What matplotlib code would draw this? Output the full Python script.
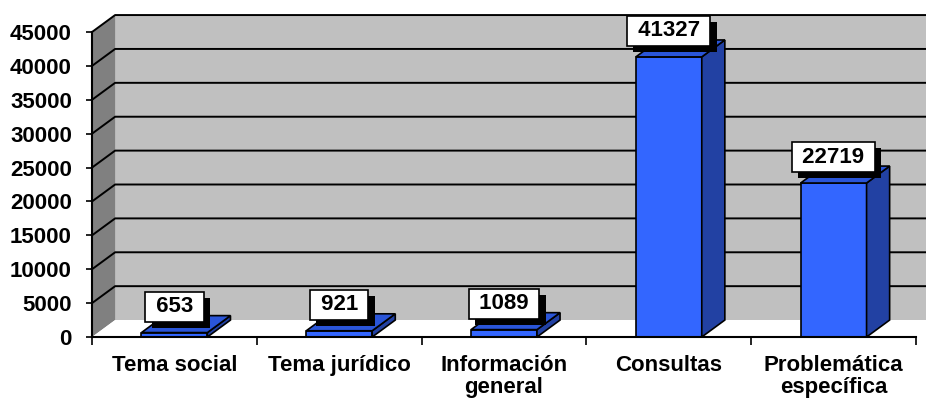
import matplotlib.pyplot as plt
from matplotlib.patches import Polygon
import matplotlib.patheffects as pe

plt.rcParams['font.family'] = ['Liberation Sans', 'DejaVu Sans']
plt.rcParams['font.weight'] = 'bold'

# datos del grafico
categorias = ['Tema social', 'Tema jurídico', 'Información\ngeneral', 'Consultas', 'Problemática\nespecífica']
valores = [653, 921, 1089, 41327, 22719]
ticks_y = [0, 5000, 10000, 15000, 20000, 25000, 30000, 35000, 40000, 45000]

# profundidad 3D (en unidades de datos)
DX = 0.14
DY = 2500
ANCHO = 0.4

fig = plt.figure(figsize=(9.26, 4.01), dpi=100)
ax = fig.add_axes([0.0994, 0.1596, 0.8898, 0.7606])
ax.patch.set_visible(False)

x0, x1 = -0.5, len(categorias) - 0.5
ymax = ticks_y[-1]

def poly(pts, fc, z, ec='black', lw=1.2):
    p = Polygon(pts, closed=True, facecolor=fc, edgecolor=ec, linewidth=lw, clip_on=False, zorder=z)
    ax.add_patch(p)

# paredes y suelo (sin borde)
poly([(x0 + DX, DY), (x1 + DX, DY), (x1 + DX, ymax + DY), (x0 + DX, ymax + DY)], '#c0c0c0', 1, ec='none')
poly([(x0, 0), (x0 + DX, DY), (x0 + DX, ymax + DY), (x0, ymax)], '#808080', 1, ec='none')
poly([(x0, 0), (x1, 0), (x1 + DX, DY), (x0 + DX, DY)], 'white', 1, ec='none')

# lineas de division (la de 0 no se dibuja)
for t in ticks_y[1:]:
    ax.plot([x0, x0 + DX, x1 + DX], [t, t + DY, t + DY], color='black', lw=1.4, clip_on=False, zorder=2)

# barras
for i, v in enumerate(valores):
    a, b = i - ANCHO / 2, i + ANCHO / 2
    poly([(a, 0), (b, 0), (b, v), (a, v)], '#3366ff', 3)
    poly([(b, 0), (b + DX, DY), (b + DX, v + DY), (b, v)], '#2241a3', 3)
    poly([(a, v), (b, v), (b + DX, v + DY), (a + DX, v + DY)], '#2a55d8', 3)

    t = ax.annotate(' ' + str(v) + ' ', xy=(i, v), xytext=(0, 26), textcoords='offset pixels',
                    ha='center', va='center', fontsize=16, fontweight='bold', zorder=6,
                    bbox=dict(boxstyle='square,pad=0.2', fc='white', ec='black', lw=1.2))
    t.get_bbox_patch().set_path_effects([
        pe.SimplePatchShadow(offset=(4.5, -4.5), shadow_rgbFace='black', alpha=1.0),
        pe.Normal()])

ax.set_xlim(x0, x1)
ax.set_ylim(0, ymax)

ax.set_yticks(ticks_y)
ax.tick_params(axis='y', length=4.5, width=1.2, pad=10, labelsize=16)

ax.set_xticks(range(len(categorias)), categorias)
ax.set_xticks([x0 + k for k in range(len(categorias) + 1)], minor=True)
ax.tick_params(axis='x', which='major', length=0, pad=13, labelsize=16)
ax.tick_params(axis='x', which='minor', length=6, width=1.2)
for lbl in ax.get_xticklabels():
    lbl.set_linespacing(1.05)

for s in ['top', 'right']:
    ax.spines[s].set_visible(False)
for s in ['left', 'bottom']:
    ax.spines[s].set_linewidth(1.5)
    ax.spines[s].set_zorder(4)

fig.savefig('out.png', dpi=100)
